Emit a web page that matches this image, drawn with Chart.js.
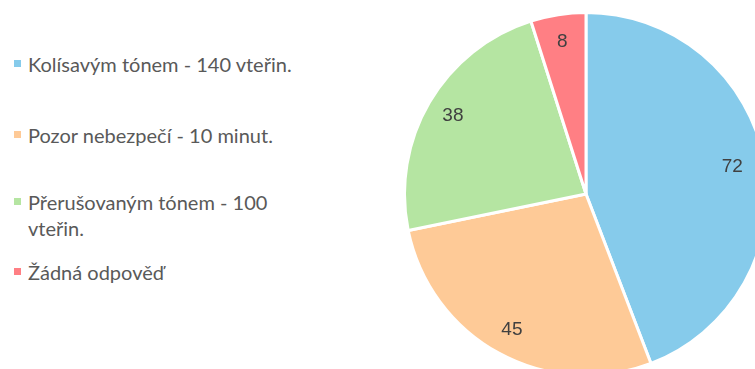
<!DOCTYPE html>
<html>
<head>
<meta charset="utf-8">
<script src="https://cdn.jsdelivr.net/npm/chart.js@4"></script>
<style>
  html, body { margin: 0; padding: 0; background: #fff; overflow: hidden; }
  body { width: 755px; height: 369px; position: relative; }
  #legend { position: absolute; left: 0; top: 0; font-family: Lato, sans-serif; font-size: 20px; color: #595959; }
  .item { position: absolute; left: 14px; width: 290px; line-height: 26px; }
  .box { position: absolute; left: 0; top: 9px; width: 7px; height: 7px; }
  .text { margin-left: 14px; width: 272px; }
  #pie { position: absolute; left: 403px; top: 11px; }
</style>
</head>
<body>
<div id="legend"></div>
<canvas id="pie" width="366" height="366"></canvas>
<script>
const labels = [
  'Kolísavým tónem - 140 vteřin.',
  'Pozor nebezpečí - 10 minut.',
  'Přerušovaným tónem - 100 vteřin.',
  'Žádná odpověď'
]
const values = [72, 45, 38, 8]
const colors = ['#86CBEB', '#FECA97', '#B5E5A2', '#FF7F84']

// top of each legend row
const legendTops = [51, 122, 189, 259]

const legend = document.getElementById('legend')
labels.forEach((label, i) => {
  const item = document.createElement('div')
  item.className = 'item'
  item.style.top = legendTops[i] + 'px'
  const box = document.createElement('div')
  box.className = 'box'
  box.style.background = colors[i]
  const text = document.createElement('div')
  text.className = 'text'
  text.textContent = label
  item.appendChild(box)
  item.appendChild(text)
  legend.appendChild(item)
})

// value labels inside the slices, near the rim
const sliceLabels = {
  id: 'sliceLabels',
  afterDatasetsDraw(chart) {
    const ctx = chart.ctx
    const meta = chart.getDatasetMeta(0)
    ctx.save()
    ctx.font = '19px "Liberation Sans", Arial, sans-serif'
    ctx.fillStyle = '#404040'
    ctx.textAlign = 'center'
    ctx.textBaseline = 'middle'
    meta.data.forEach((arc, i) => {
      const { x, y, startAngle, endAngle, outerRadius } = arc.getProps(['x', 'y', 'startAngle', 'endAngle', 'outerRadius'])
      const mid = (startAngle + endAngle) / 2
      // the big slice's label sits a little further in
      const r = outerRadius * (i === 0 ? 0.82 : 0.85)
      ctx.fillText(String(values[i]), x + Math.cos(mid) * r, y + Math.sin(mid) * r)
    })
    ctx.restore()
  }
}

new Chart(document.getElementById('pie'), {
  type: 'pie',
  data: {
    labels: labels,
    datasets: [{
      data: values,
      backgroundColor: colors,
      borderColor: '#ffffff',
      borderWidth: 3
    }]
  },
  options: {
    responsive: false,
    animation: false,
    layout: { padding: 0 },
    plugins: {
      legend: { display: false },
      tooltip: { enabled: false }
    }
  },
  plugins: [sliceLabels]
})
</script>
</body>
</html>
